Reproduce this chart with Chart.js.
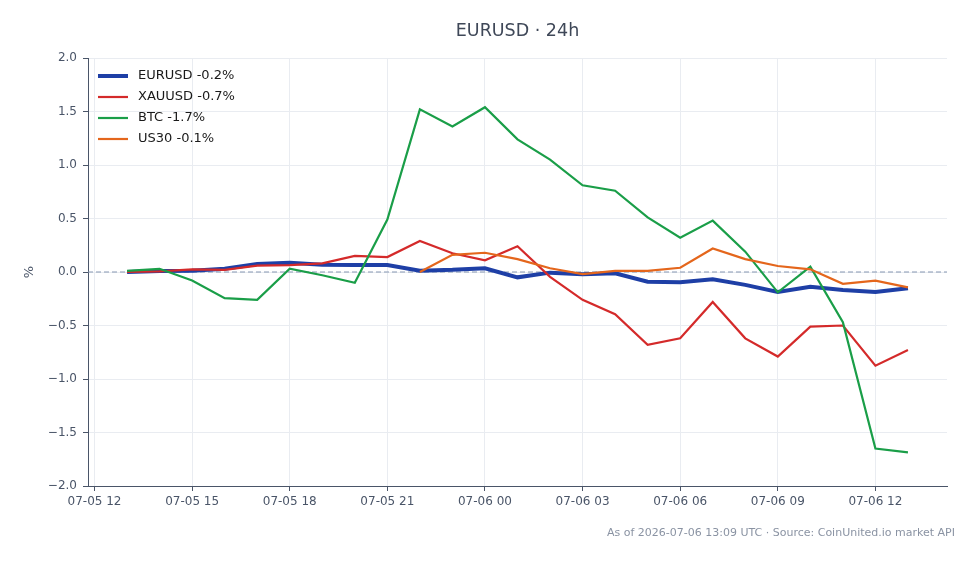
<!DOCTYPE html>
<html>
<head>
<meta charset="utf-8">
<title>EURUSD 24h</title>
<script src="https://cdn.jsdelivr.net/npm/chart.js@4.4.1/dist/chart.umd.min.js"></script>
<style>
  html, body { margin: 0; padding: 0; background: #fff; }
</style>
</head>
<body>
<canvas id="myChart" width="979" height="564"></canvas>
<script>
// hours counted from 07-05 00:00 UTC
const hours = [13, 14, 15, 16, 17, 18, 19, 20, 21, 22, 23, 24, 25, 26, 27, 28, 29, 30, 31, 32, 33, 34, 35, 36, 37];
const eurusd = [0.0, 0.01, 0.012, 0.03, 0.075, 0.087, 0.068, 0.065, 0.065, 0.012, 0.02, 0.035, -0.05, -0.006, -0.02, -0.012, -0.09, -0.096, -0.068, -0.12, -0.187, -0.137, -0.168, -0.187, -0.152];
const xauusd = [0.0, 0.005, 0.025, 0.02, 0.06, 0.065, 0.08, 0.15, 0.14, 0.29, 0.175, 0.11, 0.24, -0.045, -0.26, -0.395, -0.68, -0.62, -0.28, -0.62, -0.79, -0.51, -0.50, -0.875, -0.73];
const btc = [0.01, 0.03, -0.08, -0.245, -0.26, 0.03, -0.03, -0.10, 0.49, 1.52, 1.36, 1.54, 1.24, 1.05, 0.81, 0.76, 0.51, 0.32, 0.48, 0.19, -0.19, 0.05, -0.47, -1.65, -1.685];
const us30 = [null, null, null, null, null, null, null, null, null, 0.0, 0.16, 0.18, 0.12, 0.035, -0.02, 0.01, 0.01, 0.04, 0.22, 0.12, 0.056, 0.025, -0.11, -0.08, -0.143];

const seriesNames = ['EURUSD -0.2%', 'XAUUSD -0.7%', 'BTC -1.7%', 'US30 -0.1%'];
const tickHours = [12, 15, 18, 21, 24, 27, 30, 33, 36];
const tickLabels = ['07-05 12', '07-05 15', '07-05 18', '07-05 21', '07-06 00', '07-06 03', '07-06 06', '07-06 09', '07-06 12'];

Chart.defaults.font.family = 'DejaVu Sans';

function points(vals) {
  return hours.map((h, i) => ({ x: h, y: vals[i] }));
}

const zeroLine = {
  id: 'zeroLine',
  beforeDatasetsDraw(chart) {
    const { ctx, chartArea } = chart;
    const y = chart.scales.y.getPixelForValue(0);
    ctx.save();
    ctx.strokeStyle = '#8797b2';
    ctx.lineWidth = 1;
    ctx.setLineDash([5, 3]);
    ctx.beginPath();
    ctx.moveTo(chartArea.left, y);
    ctx.lineTo(chartArea.right, y);
    ctx.stroke();
    ctx.restore();
  }
};

// legend in the upper left of the plot, plus title and footer
const texts = {
  id: 'texts',
  afterDraw(chart) {
    const { ctx, chartArea } = chart;
    ctx.save();
    ctx.textBaseline = 'middle';

    chart.data.datasets.forEach((ds, i) => {
      const y = chartArea.top + 18 + i * 21;
      const x = chartArea.left + 10;
      ctx.strokeStyle = ds.borderColor;
      ctx.lineWidth = ds.borderWidth;
      ctx.beginPath();
      ctx.moveTo(x, y);
      ctx.lineTo(x + 30, y);
      ctx.stroke();
      ctx.fillStyle = '#1a1a1a';
      ctx.font = '13px "DejaVu Sans"';
      ctx.textAlign = 'left';
      ctx.fillText(ds.label, x + 40, y);
    });

    ctx.fillStyle = '#3f4858';
    ctx.font = '17.5px "DejaVu Sans"';
    ctx.textAlign = 'center';
    ctx.fillText('EURUSD \u00b7 24h', (chartArea.left + chartArea.right) / 2, 31);
    ctx.fillStyle = '#8a93a3';
    ctx.font = '11px "DejaVu Sans"';
    ctx.textAlign = 'right';
    ctx.fillText('As of 2026-07-06 13:09 UTC \u00b7 Source: CoinUnited.io market API', 955, 533);
    ctx.restore();
  }
};

let ctx = document.getElementById('myChart').getContext('2d');
let chart = new Chart(ctx, {
  type: 'line',
  data: {
    datasets: [
      { label: seriesNames[0], data: points(eurusd), borderColor: '#1e3fa6', backgroundColor: '#1e3fa6', borderWidth: 4, order: 4 },
      { label: seriesNames[1], data: points(xauusd), borderColor: '#d42a2a', backgroundColor: '#d42a2a', borderWidth: 2.2, order: 3 },
      { label: seriesNames[2], data: points(btc), borderColor: '#1a9e48', backgroundColor: '#1a9e48', borderWidth: 2.2, order: 2 },
      { label: seriesNames[3], data: points(us30), borderColor: '#e4661c', backgroundColor: '#e4661c', borderWidth: 2.2, order: 1 }
    ]
  },
  options: {
    responsive: false,
    animation: false,
    devicePixelRatio: 1,
    layout: { padding: { top: 58, right: 32, bottom: 0, left: 0 } },
    elements: {
      point: { radius: 0 },
      line: { tension: 0 }
    },
    plugins: {
      legend: { display: false },
      tooltip: { enabled: false }
    },
    scales: {
      x: {
        type: 'linear',
        min: 11.8,
        max: 38.2,
        afterBuildTicks: s => { s.ticks = tickHours.map(v => ({ value: v })); },
        afterFit: s => { s.height = 78; },
        ticks: {
          color: '#4a5568',
          font: { size: 12 },
          padding: 4,
          maxRotation: 0,
          callback: (v, i) => tickLabels[i]
        },
        grid: { color: '#e9ecf1', tickColor: '#4a5568', tickLength: 5 },
        border: { color: '#4a5568', width: 1 }
      },
      y: {
        min: -2,
        max: 2,
        afterFit: s => { s.width = 88; },
        ticks: {
          stepSize: 0.5,
          color: '#4a5568',
          font: { size: 12 },
          padding: 6,
          callback: v => (v < 0 ? '\u2212' : '') + Math.abs(v).toFixed(1)
        },
        title: { display: true, text: '%', color: '#4a5568', font: { size: 13 }, padding: { top: 22, bottom: 0 } },
        grid: { color: '#e9ecf1', tickColor: '#4a5568', tickLength: 5 },
        border: { color: '#4a5568', width: 1 }
      }
    }
  },
  plugins: [zeroLine, texts]
});
</script>
</body>
</html>
